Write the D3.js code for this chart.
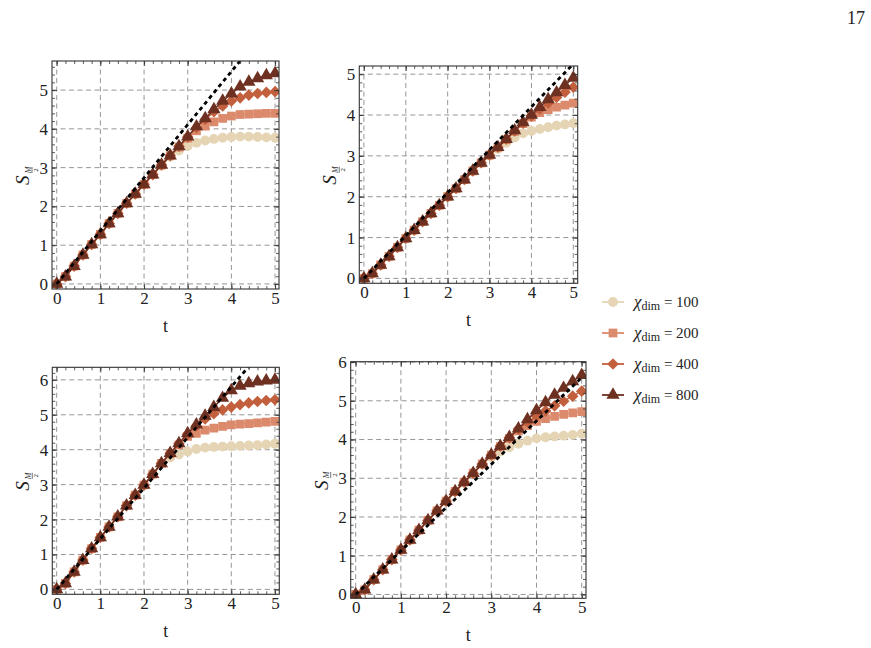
<!DOCTYPE html>
<html>
<head>
<meta charset="utf-8">
<script src="https://cdn.jsdelivr.net/npm/d3@7"></script>
<style>
  body { margin: 0; background: #fff; }
  svg { display: block; }
  svg text { font-family: "Liberation Serif", "Times New Roman", serif; }
</style>
</head>
<body>
<svg width="871" height="648"></svg>
<script>
// time grid, shared by every panel
var tValues = [0, 0.2, 0.4, 0.6, 0.8, 1.0, 1.2, 1.4, 1.6, 1.8, 2.0, 2.2, 2.4, 2.6, 2.8,
               3.0, 3.2, 3.4, 3.6, 3.8, 4.0, 4.2, 4.4, 4.6, 4.8, 5.0];

var chiLabels = ["100", "200", "400", "800"];
var colors = ["#e5d5b5", "#dc8a6c", "#c2603e", "#6e3020"];
var shapes = ["circle", "square", "diamond", "triangle"];

// panel 1 (top left)
var p1Chi100 = [0, 0.19, 0.46, 0.75, 1.02, 1.28, 1.56, 1.82, 2.08, 2.32, 2.57, 2.82, 3.05, 3.28, 3.44, 3.56, 3.64, 3.70, 3.74, 3.77, 3.79, 3.80, 3.80, 3.79, 3.78, 3.77];
var p1Chi200 = [0, 0.19, 0.46, 0.75, 1.02, 1.28, 1.56, 1.82, 2.08, 2.32, 2.57, 2.82, 3.07, 3.31, 3.53, 3.76, 3.95, 4.07, 4.18, 4.27, 4.33, 4.37, 4.38, 4.39, 4.40, 4.40];
var p1Chi400 = [0, 0.19, 0.46, 0.75, 1.02, 1.28, 1.56, 1.82, 2.08, 2.32, 2.57, 2.82, 3.07, 3.31, 3.55, 3.79, 4.03, 4.24, 4.44, 4.59, 4.72, 4.80, 4.87, 4.91, 4.94, 4.96];
var p1Chi800 = [0, 0.19, 0.46, 0.75, 1.02, 1.28, 1.56, 1.82, 2.08, 2.32, 2.57, 2.82, 3.07, 3.31, 3.55, 3.80, 4.06, 4.27, 4.50, 4.72, 4.91, 5.09, 5.21, 5.30, 5.38, 5.43];
var p1Dashed = [[0, 0], [5, 6.85]];

// panel 2 (top right)
var p2Chi100 = [0, 0.12, 0.33, 0.54, 0.76, 0.98, 1.18, 1.39, 1.59, 1.79, 2.00, 2.20, 2.42, 2.63, 2.83, 3.00, 3.17, 3.32, 3.45, 3.55, 3.61, 3.66, 3.70, 3.74, 3.77, 3.80];
var p2Chi200 = [0, 0.12, 0.33, 0.54, 0.76, 0.98, 1.18, 1.39, 1.59, 1.79, 2.00, 2.20, 2.42, 2.63, 2.83, 3.02, 3.21, 3.40, 3.60, 3.79, 3.95, 4.06, 4.13, 4.19, 4.24, 4.29];
var p2Chi400 = [0, 0.12, 0.33, 0.54, 0.76, 0.98, 1.18, 1.39, 1.59, 1.79, 2.00, 2.20, 2.42, 2.63, 2.83, 3.02, 3.21, 3.41, 3.61, 3.80, 3.98, 4.14, 4.29, 4.43, 4.56, 4.68];
var p2Chi800 = [0, 0.12, 0.33, 0.54, 0.76, 0.98, 1.18, 1.39, 1.59, 1.79, 2.00, 2.20, 2.42, 2.63, 2.83, 3.02, 3.21, 3.41, 3.62, 3.82, 4.00, 4.19, 4.38, 4.55, 4.73, 4.91];
var p2Dashed = [[0, 0], [5, 5.25]];

// panel 3 (bottom left)
var p3Chi100 = [0, 0.17, 0.50, 0.84, 1.17, 1.49, 1.79, 2.08, 2.40, 2.70, 2.99, 3.30, 3.61, 3.78, 3.86, 3.95, 4.02, 4.06, 4.08, 4.09, 4.10, 4.11, 4.12, 4.13, 4.15, 4.17];
var p3Chi200 = [0, 0.17, 0.50, 0.84, 1.17, 1.49, 1.79, 2.08, 2.40, 2.70, 2.99, 3.30, 3.61, 3.88, 4.14, 4.38, 4.47, 4.56, 4.62, 4.67, 4.71, 4.73, 4.75, 4.77, 4.79, 4.81];
var p3Chi400 = [0, 0.17, 0.50, 0.84, 1.17, 1.49, 1.79, 2.08, 2.40, 2.70, 2.99, 3.30, 3.61, 3.90, 4.17, 4.44, 4.68, 4.88, 5.03, 5.14, 5.22, 5.29, 5.34, 5.38, 5.41, 5.43];
var p3Chi800 = [0, 0.17, 0.50, 0.84, 1.17, 1.49, 1.79, 2.08, 2.40, 2.70, 2.99, 3.30, 3.61, 3.90, 4.18, 4.47, 4.72, 4.97, 5.22, 5.48, 5.70, 5.83, 5.90, 5.95, 5.98, 6.00];
var p3Dashed = [[0, 0], [5, 7.25]];

// panel 4 (bottom right)
var p4Chi100 = [0, 0.12, 0.38, 0.64, 0.90, 1.15, 1.41, 1.66, 1.91, 2.16, 2.41, 2.66, 2.90, 3.13, 3.36, 3.55, 3.69, 3.80, 3.89, 3.97, 4.03, 4.06, 4.08, 4.10, 4.12, 4.15];
var p4Chi200 = [0, 0.12, 0.38, 0.64, 0.90, 1.15, 1.41, 1.66, 1.91, 2.16, 2.41, 2.66, 2.90, 3.13, 3.37, 3.60, 3.82, 4.03, 4.22, 4.36, 4.47, 4.54, 4.60, 4.65, 4.69, 4.72];
var p4Chi400 = [0, 0.12, 0.38, 0.64, 0.90, 1.15, 1.41, 1.66, 1.91, 2.16, 2.41, 2.66, 2.90, 3.13, 3.37, 3.60, 3.83, 4.05, 4.27, 4.45, 4.60, 4.74, 4.87, 4.99, 5.12, 5.25];
var p4Chi800 = [0, 0.12, 0.38, 0.64, 0.90, 1.15, 1.41, 1.66, 1.91, 2.16, 2.41, 2.66, 2.90, 3.13, 3.37, 3.60, 3.83, 4.06, 4.28, 4.52, 4.75, 4.96, 5.15, 5.33, 5.50, 5.66];
var p4Dashed = [[0, 0], [5, 5.6]];

var xTicks = [0, 1, 2, 3, 4, 5];
var yTicksA = [0, 1, 2, 3, 4, 5];
var yTicksB = [0, 1, 2, 3, 4, 5, 6];

// frame boxes and visible ranges
var panels = [
  {box: [52, 61, 279, 289], xd: [-0.108, 5.09], yd: [-0.13, 5.75], yTicks: yTicksA,
   series: [p1Chi100, p1Chi200, p1Chi400, p1Chi800], dashed: p1Dashed},
  {box: [359.3, 66, 577.7, 283.3], xd: [-0.11, 5.105], yd: [-0.12, 5.2], yTicks: yTicksA,
   series: [p2Chi100, p2Chi200, p2Chi400, p2Chi800], dashed: p2Dashed},
  {box: [52.3, 367.3, 279.3, 594.3], xd: [-0.1, 5.1], yd: [-0.14, 6.36], yTicks: yTicksB,
   series: [p3Chi100, p3Chi200, p3Chi400, p3Chi800], dashed: p3Dashed},
  {box: [350.7, 361.7, 586, 598.3], xd: [-0.11, 5.095], yd: [-0.1, 6.01], yTicks: yTicksB,
   series: [p4Chi100, p4Chi200, p4Chi400, p4Chi800], dashed: p4Dashed}
];

const svg = d3.select('svg');
svg.append('rect').attr('width', 871).attr('height', 648).attr('fill', '#fff');

function markerPath(shape) {
  if (shape == "circle") return d3.symbol(d3.symbolCircle, 76)();
  if (shape == "square") return d3.symbol(d3.symbolSquare, 76)();
  if (shape == "diamond") return "M0,-5.8L5.8,0L0,5.8L-5.8,0Z";
  return d3.symbol(d3.symbolTriangle, 76)();
}

// S with a small M/2 fraction as subscript, turned to read upwards
function drawYLabel(g, x, y) {
  var lab = g.append('g').attr('transform', 'translate(' + x + ',' + y + ') rotate(-90)');
  lab.append('text').attr('x', -10).attr('y', 0)
    .attr('font-size', 19).attr('font-style', 'italic').attr('fill', '#222').text('S');
  lab.append('text').attr('x', 5).attr('y', 1.5).attr('text-anchor', 'middle')
    .attr('font-size', 8).attr('font-style', 'italic').attr('fill', '#222').text('M');
  lab.append('line').attr('x1', 2).attr('x2', 8).attr('y1', 3).attr('y2', 3)
    .attr('stroke', '#222').attr('stroke-width', 0.6);
  lab.append('text').attr('x', 5).attr('y', 9).attr('text-anchor', 'middle')
    .attr('font-size', 7).attr('fill', '#222').text('2');
}

panels.forEach(function(p, pi) {
  var x0 = p.box[0], y0 = p.box[1], x1 = p.box[2], y1 = p.box[3];
  var x = d3.scaleLinear().domain(p.xd).range([x0, x1]);
  var y = d3.scaleLinear().domain(p.yd).range([y1, y0]);
  var g = svg.append('g');

  var clipId = 'clip' + pi;
  g.append('clipPath').attr('id', clipId).append('rect')
    .attr('x', x0).attr('y', y0).attr('width', x1 - x0).attr('height', y1 - y0);

  // dashed grid
  g.selectAll('.gx').data(xTicks).enter().append('line')
    .attr('x1', d => x(d)).attr('x2', d => x(d)).attr('y1', y0).attr('y2', y1)
    .attr('stroke', '#8a8a8a').attr('stroke-width', 0.9).attr('stroke-dasharray', '5,3.5');
  g.selectAll('.gy').data(p.yTicks).enter().append('line')
    .attr('x1', x0).attr('x2', x1).attr('y1', d => y(d)).attr('y2', d => y(d))
    .attr('stroke', '#8a8a8a').attr('stroke-width', 0.9).attr('stroke-dasharray', '5,3.5');

  var plot = g.append('g').attr('clip-path', 'url(#' + clipId + ')');

  p.series.forEach(function(vals, si) {
    var pts = vals.map((v, i) => [tValues[i], v]);
    plot.append('path').datum(pts)
      .attr('d', d3.line().x(d => x(d[0])).y(d => y(d[1])))
      .attr('fill', 'none').attr('stroke', colors[si]).attr('stroke-width', 1.5);
    plot.selectAll('.m' + si).data(pts).enter().append('path')
      .attr('d', markerPath(shapes[si]))
      .attr('transform', d => 'translate(' + x(d[0]) + ',' + y(d[1]) + ')')
      .attr('fill', colors[si]);
  });

  plot.append('path').datum(p.dashed)
    .attr('d', d3.line().x(d => x(d[0])).y(d => y(d[1])))
    .attr('fill', 'none').attr('stroke', '#000').attr('stroke-width', 2.8)
    .attr('stroke-dasharray', '4,3.5');

  // frame ticks, inside, on all four sides
  var minorX = d3.range(0, 5.001, 0.2);
  var minorY = d3.range(0, p.yd[1], 0.2);
  g.append('g').attr('transform', 'translate(0,' + y1 + ')')
    .call(d3.axisBottom(x).tickValues(minorX).tickSize(-3).tickFormat(''));
  g.append('g').attr('transform', 'translate(0,' + y0 + ')')
    .call(d3.axisTop(x).tickValues(minorX).tickSize(-3).tickFormat(''));
  g.append('g').attr('transform', 'translate(' + x0 + ',0)')
    .call(d3.axisLeft(y).tickValues(minorY).tickSize(-3).tickFormat(''));
  g.append('g').attr('transform', 'translate(' + x1 + ',0)')
    .call(d3.axisRight(y).tickValues(minorY).tickSize(-3).tickFormat(''));

  g.append('g').attr('transform', 'translate(0,' + y1 + ')')
    .call(d3.axisBottom(x).tickValues(xTicks).tickSize(-5).tickPadding(3).tickFormat(d3.format('d')));
  g.append('g').attr('transform', 'translate(0,' + y0 + ')')
    .call(d3.axisTop(x).tickValues(xTicks).tickSize(-5).tickFormat(''));
  g.append('g').attr('transform', 'translate(' + x0 + ',0)')
    .call(d3.axisLeft(y).tickValues(p.yTicks).tickSize(-5).tickPadding(4).tickFormat(d3.format('d')));
  g.append('g').attr('transform', 'translate(' + x1 + ',0)')
    .call(d3.axisRight(y).tickValues(p.yTicks).tickSize(-5).tickFormat(''));

  g.selectAll('.domain').remove();
  g.selectAll('.tick line').attr('stroke', '#333').attr('stroke-width', 0.8);
  g.selectAll('.tick text')
    .style('font-family', '"Liberation Serif", "Times New Roman", serif')
    .style('font-size', '17px').attr('fill', '#222');

  g.append('rect').attr('x', x0).attr('y', y0).attr('width', x1 - x0).attr('height', y1 - y0)
    .attr('fill', 'none').attr('stroke', '#333').attr('stroke-width', 1.1);

  g.append('text').attr('x', (x0 + x1) / 2).attr('y', y1 + 43)
    .attr('text-anchor', 'middle').attr('font-size', 18).attr('fill', '#222').text('t');

  drawYLabel(g, x0 - 23, (y0 + y1) / 2);
});

// legend
var legend = svg.append('g');
var legendY = [302, 333, 364, 395];
chiLabels.forEach(function(lbl, i) {
  var row = legend.append('g').attr('transform', 'translate(602,' + legendY[i] + ')');
  row.append('line').attr('x1', 0).attr('x2', 22).attr('stroke', colors[i]).attr('stroke-width', 1.8);
  row.append('path').attr('d', markerPath(shapes[i])).attr('transform', 'translate(11,0)')
    .attr('fill', colors[i]);
  var t = row.append('text').attr('x', 32).attr('y', 5).attr('font-size', 15).attr('fill', '#222');
  t.append('tspan').attr('font-style', 'italic').attr('font-size', 17).text('χ');
  t.append('tspan').attr('dy', 3).attr('font-size', 12).text('dim');
  t.append('tspan').attr('dy', -3).text(' = ' + lbl);
});

// page number
svg.append('text').attr('x', 856).attr('y', 24).attr('text-anchor', 'middle')
  .attr('font-size', 18).attr('fill', '#222').text('17');
</script>
</body>
</html>
